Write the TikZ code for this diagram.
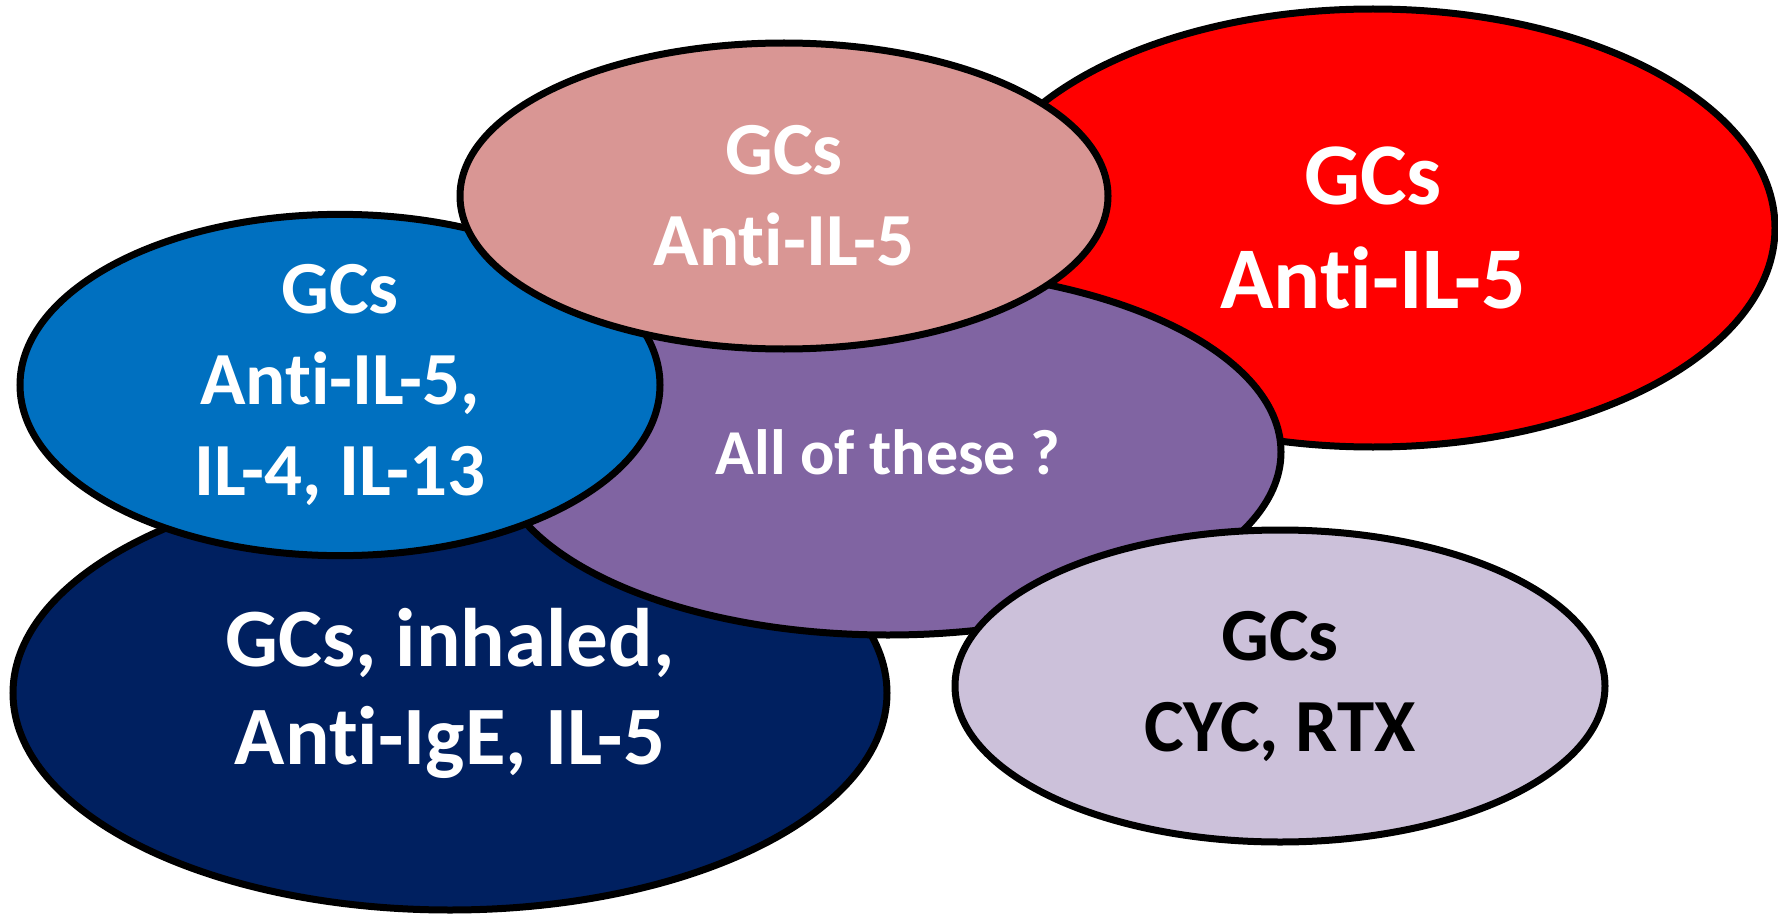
\documentclass[tikz,border=0pt]{standalone}
\usepackage{fontspec}
\setmainfont[Ligatures={NoCommon,NoDiscretionary,NoContextual},RawFeature={-calt}]{Carlito}
\usetikzlibrary{shapes.geometric}
\definecolor{therapyred}{HTML}{FF0000}
\definecolor{therapyrose}{HTML}{D99694}
\definecolor{therapyplum}{HTML}{8064A2}
\definecolor{therapyblue}{HTML}{0070C0}
\definecolor{therapynavy}{HTML}{002060}
\definecolor{therapylilac}{HTML}{CCC1DA}
\newcommand{\antiword}{Ant\kern0pt i}
\tikzset{
  blob/.style={ellipse, draw=black, line width=7pt, inner sep=0pt, align=center, text=white},
  hugetxt/.style={font=\bfseries\fontsize{88}{104}\selectfont},
  navytxt/.style={font=\bfseries\fontsize{83}{98}\selectfont},
  bigtxt/.style={font=\bfseries\fontsize{75}{91}\selectfont},
  midtxt/.style={font=\bfseries\fontsize{64}{76}\selectfont},
}

\begin{document}
\begin{tikzpicture}[x=1pt, y=-1pt]
  \useasboundingbox (0,0) rectangle (1778,915);
  % back to front
  \node[blob, hugetxt, fill=therapyred, minimum width=804pt, minimum height=438pt] (red) at (1373,228) {GCs\\\antiword-IL-5};
  \node[blob, navytxt, fill=therapynavy, minimum width=874pt, minimum height=434pt] (navy) at (450,693) {GCs, inhaled,\\\antiword-IgE, IL-5};
  \node[blob, midtxt, fill=therapyplum, minimum width=786pt, minimum height=366pt] (plum) at (888,452) {All of these ?};
  \node[blob, bigtxt, fill=therapylilac, text=black, minimum width=650pt, minimum height=312pt] (lilac) at (1280,686) {GCs\\CYC, RTX};
  \node[blob, bigtxt, fill=therapyblue, minimum width=640pt, minimum height=318pt] (blue) at (340,385) {GCs\\\antiword-IL-5,\\IL-4, IL-13};
  \node[blob, bigtxt, fill=therapyrose, minimum width=648pt, minimum height=306pt] (rose) at (784,196) {GCs\\\antiword-IL-5};
\end{tikzpicture}
\end{document}
